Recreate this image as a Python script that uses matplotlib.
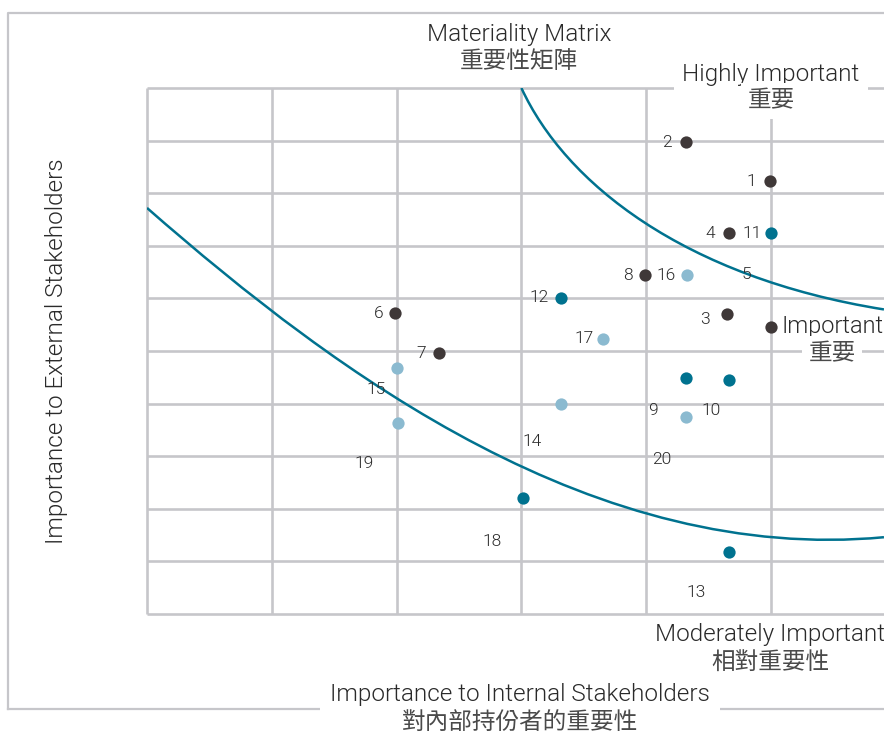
import matplotlib
matplotlib.use("Agg")
import matplotlib.pyplot as plt
from matplotlib.lines import Line2D
from matplotlib.path import Path
from matplotlib.patches import PathPatch

plt.rcParams['font.family'] = ['Roboto', 'Noto Sans CJK TC', 'DejaVu Sans']

# grid units: x = internal importance, y = external importance
dark_labels = ['1', '2', '3', '4', '6', '7', '8', '']
dark_x = [4.99, 4.32, 4.65, 4.66, 1.99, 2.34, 3.99, 5.00]
dark_y = [8.23, 8.97, 5.70, 7.24, 5.72, 4.96, 6.44, 5.46]

teal_labels = ['11', '12', '9', '10', '18', '13']
teal_x = [5.00, 3.32, 4.32, 4.66, 3.01, 4.66]
teal_y = [7.24, 6.01, 4.49, 4.45, 2.21, 1.18]

light_labels = ['16', '17', '15', '19', '14', '20']
light_x = [4.33, 3.65, 2.00, 2.01, 3.32, 4.32]
light_y = [6.44, 5.23, 4.68, 3.63, 3.99, 3.75]

# item 5 has a label but no dot
extra_label = '5'
extra_x, extra_y = 4.80, 6.46

# boundary curves (bezier control points, grid units)
upper_curve = [(3.0, 10.0), (3.35, 8.2), (4.3, 6.4), (5.905, 5.79)]
lower_curve = [(0.0, 7.72), (1.55, 4.5), (3.6, 0.95), (5.905, 1.46)]

# label offsets from the dot, in pixels
offsets = {
    '1': (-18, 0), '2': (-19, 0), '3': (-22, -5), '4': (-18, 0), '6': (-17, 0),
    '7': (-18, 0), '8': (-17, 0), '11': (-19, 0), '12': (-22, 0), '9': (-33, -33),
    '10': (-17, -31), '18': (-31, -44), '13': (-32, -41), '16': (-21, 0),
    '17': (-18, 0), '15': (-20, -22), '19': (-34, -40), '14': (-29, -37),
    '20': (-24, -43),
}

W, H = 884, 734
DARK = '#3f3838'
TEAL = '#00728f'
LIGHT = '#8bbad0'
GRID = '#c6c6ca'
TXT = '#2a2a2a'
CJK = '#4a4a4a'
LIGHTW = 300


def fx(px):
    return px / W


def fy(py):
    return 1 - py / H


fig = plt.figure(figsize=(W / 100, H / 100), dpi=100)
ax = fig.add_axes([fx(147), fy(614), fx(884) - fx(147), fy(88) - fy(614)])
xmax = (884 - 147) / 124.8
ax.set_xlim(0, xmax)
ax.set_ylim(0, 10)
ax.axis('off')

ax.vlines(range(6), 0, 10, color=GRID, lw=1.9, clip_on=False, zorder=1)
ax.hlines(range(11), 0, xmax, color=GRID, lw=1.9, clip_on=False, zorder=1)

codes = [Path.MOVETO, Path.CURVE4, Path.CURVE4, Path.CURVE4]
for pts in (upper_curve, lower_curve):
    ax.add_patch(PathPatch(Path(pts, codes), fill=False, edgecolor=TEAL, lw=1.8, zorder=2))

ax.scatter(dark_x, dark_y, s=78, color=DARK, zorder=3, linewidths=0)
ax.scatter(teal_x, teal_y, s=78, color=TEAL, zorder=3, linewidths=0)
ax.scatter(light_x, light_y, s=78, color=LIGHT, zorder=3, linewidths=0)

for labels, xs, ys in ((dark_labels, dark_x, dark_y),
                       (teal_labels, teal_x, teal_y),
                       (light_labels, light_x, light_y)):
    for lab, x, y in zip(labels, xs, ys):
        if not lab:
            continue
        ax.annotate(lab, (x, y), xytext=offsets[lab], textcoords='offset pixels',
                    ha='center', va='center', fontsize=12.5, color=TXT,
                    fontweight=LIGHTW, zorder=4)
ax.text(extra_x, extra_y, extra_label, ha='center', va='center', fontsize=12.5,
        color=TXT, fontweight=LIGHTW, zorder=4)

# outer frame
fig.add_artist(Line2D([fx(8), fx(8), 1.0], [fy(709), fy(13), fy(13)],
                      transform=fig.transFigure, color=GRID, lw=1.6))
fig.add_artist(Line2D([fx(8), 1.0], [fy(709), fy(709)],
                      transform=fig.transFigure, color=GRID, lw=1.6))

EN = 17.5
CN = 17
kw = dict(ha='center', va='center', color=TXT, fontweight=LIGHTW, zorder=5)
kc = dict(ha='center', va='center', color=CJK, fontweight=LIGHTW, zorder=5)

fig.text(fx(519), fy(35), 'Materiality Matrix', fontsize=EN, **kw)
fig.text(fx(519), fy(62), '重要性矩陣', fontsize=CN, **kc)

fig.text(fx(771), fy(74), 'Highly Important', fontsize=EN,
         bbox=dict(facecolor='white', edgecolor='none', pad=6), **kw)
fig.text(fx(771), fy(101), '重要', fontsize=CN,
         bbox=dict(facecolor='white', edgecolor='none', pad=5), **kc)

fig.text(fx(782), fy(327), 'Important', fontsize=17, ha='left', va='center',
         color=TXT, fontweight=LIGHTW, zorder=5)
fig.text(fx(832), fy(354), '重要', fontsize=CN,
         bbox=dict(facecolor='white', edgecolor='none', pad=5), **kc)

fig.text(fx(770), fy(635), 'Moderately Important', fontsize=EN, **kw)
fig.text(fx(770), fy(662), '相對重要性', fontsize=CN, **kc)

fig.text(fx(520), fy(695), 'Importance to Internal Stakeholders', fontsize=EN,
         bbox=dict(facecolor='white', edgecolor='none', pad=7), **kw)
fig.text(fx(520), fy(722), '對內部持份者的重要性', fontsize=CN, **kc)

fig.text(fx(57), fy(351), 'Importance to External Stakeholders', fontsize=EN,
         rotation=90, **kw)

fig.savefig('out.png', dpi=100)
